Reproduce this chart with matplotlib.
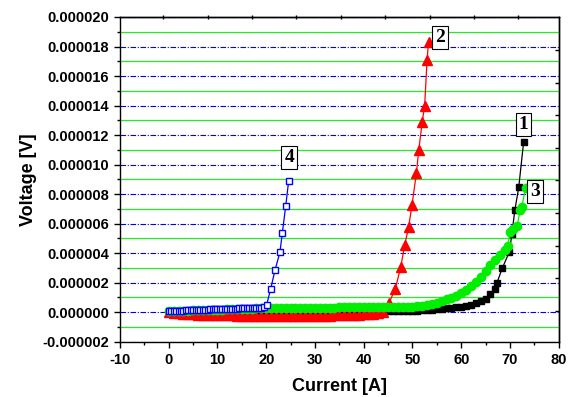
import matplotlib
matplotlib.use("Agg")
import matplotlib.pyplot as plt
from matplotlib.ticker import MultipleLocator, FormatStrFormatter

# ---- data (Voltage values in microvolts, scaled by 1e-6 when plotted) ----
x1 = [0, 1, 2, 3, 4, 5, 6, 7, 8, 9, 10, 11, 12, 13, 14, 15, 16, 17, 18, 19, 20, 21, 22, 23,
      24, 25, 26, 27, 28, 29, 30, 31, 32, 33, 34, 35, 36, 37, 38, 39, 40, 41, 42, 43, 44, 45,
      46, 47, 48, 49, 50, 51, 52, 53, 54, 55, 56, 57, 58, 59, 60, 61, 62, 63, 64, 65, 66, 67,
      67.3, 68.4, 69.9, 70.4, 71.0, 71.8, 72.8]
y1 = [0.0, 0.0, 0.0, 0.0, 0.0, 0.0, 0.0, 0.0, 0.0, 0.0, 0.0, 0.0, 0.0, 0.0, 0.0, 0.0, 0.0, 0.0,
      0.0, 0.0, 0.0, 0.0, 0.0, 0.0, 0.0, 0.0, 0.0, 0.0, 0.0, 0.0, 0.0, 0.0, 0.0, 0.0, 0.0, 0.0,
      0.0, 0.0, 0.01, 0.01, 0.02, 0.02, 0.03, 0.04, 0.05, 0.05, 0.06, 0.07, 0.08, 0.09, 0.10,
      0.11, 0.13, 0.15, 0.17, 0.20, 0.23, 0.26, 0.30, 0.33, 0.37, 0.43, 0.52, 0.62, 0.73, 0.92,
      1.2, 1.55,
      1.95, 2.96, 4.1, 5.3, 6.9, 8.45, 11.5]

x2 = [0, 1, 2, 3, 4, 5, 6, 7, 8, 9, 10, 11, 12, 13, 14, 15, 16, 17, 18, 19, 20, 21, 22,
      23, 24, 25, 26, 27, 28, 29, 30, 31, 32, 33, 34, 35, 36, 37, 38, 39, 40, 41, 42, 43, 44,
      45.2, 46.5, 47.6, 48.4, 49.2, 49.9, 50.8, 51.3, 52.0, 52.5, 53.0, 53.3]
y2 = [0.0, -0.04, -0.07, -0.10, -0.12, -0.14, -0.16, -0.17, -0.18, -0.19, -0.20, -0.21, -0.22,
      -0.22, -0.23, -0.23, -0.24, -0.24, -0.24, -0.25, -0.25, -0.25, -0.25, -0.25, -0.25, -0.25,
      -0.25, -0.25, -0.25, -0.24, -0.24, -0.24, -0.23, -0.23, -0.22, -0.21, -0.20, -0.19, -0.18,
      -0.16, -0.14, -0.12, -0.09, -0.06, -0.02,
      0.63, 1.6, 3.07, 4.54, 5.74, 7.25, 9.4, 11.0, 12.9, 14.0, 17.1, 18.3]

x3 = [0, 1, 2, 3, 4, 5, 6, 7, 8, 9, 10, 11, 12, 13, 14, 15, 16, 17, 18, 19, 20, 21, 22, 23,
      24, 25, 26, 27, 28, 29, 30, 31, 32, 33, 34, 35, 36, 37, 38, 39, 40, 41, 42, 43, 44, 45,
      46, 47, 48, 49, 50, 51, 52, 53, 54, 55, 56, 57, 58, 59, 60, 61, 62, 63, 64, 65, 66, 67,
      68, 69,
      69.5, 70.1, 70.6, 71.5, 72.1, 72.4, 73.2]
y3 = [0.05, 0.07, 0.08, 0.09, 0.10, 0.12, 0.13, 0.14, 0.15, 0.16, 0.17, 0.18, 0.19, 0.20,
      0.21, 0.22, 0.23, 0.24, 0.25, 0.25, 0.26, 0.26, 0.27, 0.27, 0.28, 0.28, 0.29, 0.29, 0.30,
      0.30, 0.30, 0.31, 0.31, 0.31, 0.31, 0.32, 0.32, 0.32, 0.32, 0.33, 0.33, 0.33, 0.33, 0.34,
      0.34, 0.35, 0.35, 0.36, 0.36, 0.37, 0.38, 0.39, 0.40, 0.47, 0.55, 0.65, 0.75, 0.86, 0.98,
      1.12, 1.3, 1.5, 1.75, 2.05, 2.4, 2.8, 3.2, 3.55, 3.9, 4.2,
      4.45, 5.45, 5.65, 5.85, 6.95, 7.1, 8.4]

x4 = [0, 0.5, 1, 1.5, 2, 2.5, 3, 3.5, 4, 4.5, 5, 5.5, 6, 6.5, 7, 7.5, 8, 8.5, 9, 9.5,
      10, 10.5, 11, 11.5, 12, 12.5, 13, 13.5, 14, 14.5, 15, 15.5, 16, 16.5, 17, 17.5, 18, 18.5,
      19, 19.5,
      20.1, 20.9, 21.8, 22.8, 23.3, 24.0, 24.6]
y4 = [0.05, 0.06, 0.07, 0.08, 0.09, 0.10, 0.11, 0.12, 0.12, 0.13, 0.14, 0.15, 0.15, 0.16, 0.17,
      0.17, 0.18, 0.19, 0.19, 0.20, 0.20, 0.21, 0.21, 0.22, 0.22, 0.23, 0.23, 0.24, 0.24, 0.25,
      0.25, 0.26, 0.26, 0.27, 0.27, 0.28, 0.28, 0.29, 0.30, 0.32,
      0.52, 1.56, 2.85, 4.05, 5.36, 7.2, 8.9]

labels = ["1", "2", "3", "4"]
label_x = [72.8, 55.7, 75.2, 24.7]
label_y = [12.7, 18.6, 8.15, 10.5]

plt.rcParams['font.family'] = ['Liberation Sans', 'DejaVu Sans']
plt.rcParams['axes.unicode_minus'] = False

fig = plt.figure(figsize=(5.68, 3.97), dpi=100)
ax = fig.add_axes([0.2113, 0.1393, 0.9836 - 0.2113, 0.9572 - 0.1393])

S = 1e-6
ax.plot(x1, [v * S for v in y1], color='black', lw=0.9, marker='s', ms=5,
        mfc='black', mec='black', zorder=3)
ax.plot(x2, [v * S for v in y2], color='red', lw=0.9, marker='^', ms=7,
        mfc='red', mec='red', zorder=4)
ax.plot(x3, [v * S for v in y3], color='#00ee00', lw=0.9, marker='o', ms=6,
        mfc='#00ee00', mec='#00ee00', zorder=5)
ax.plot(x4, [v * S for v in y4], color='#0000ff', lw=0.9, marker='s', ms=5,
        mfc='white', mec='#0000ff', mew=1.0, zorder=6)

for t, lx, ly in zip(labels, label_x, label_y):
    ax.text(lx, ly * S, t, family='Liberation Serif', fontweight='bold', fontsize=14,
            ha='center', va='center', zorder=7,
            bbox=dict(boxstyle='square,pad=0.15', fc='white', ec='black', lw=0.8))

ax.set_xlim(-10, 80)
ax.set_ylim(-2e-6, 20e-6)
ax.xaxis.set_major_locator(MultipleLocator(10))
ax.xaxis.set_minor_locator(MultipleLocator(5))
ax.yaxis.set_major_locator(MultipleLocator(2e-6))
ax.yaxis.set_minor_locator(MultipleLocator(1e-6))
ax.yaxis.set_major_formatter(FormatStrFormatter('%.6f'))

ax.grid(True, which='major', axis='y', color='#0000ee', lw=0.8,
        linestyle=(0, (5, 1.5, 1, 1.5)), zorder=1)
ax.grid(True, which='minor', axis='y', color='#22ee22', lw=0.9, linestyle='-', zorder=1)
ax.grid(False, axis='x')

for sp in ax.spines.values():
    sp.set_linewidth(1.0)

ax.tick_params(which='major', direction='out', length=4.5, width=1.0, labelsize=10.5,
               top=False, right=False)
ax.tick_params(which='minor', direction='out', length=2.5, width=1.0, top=False, right=False)
for lab in ax.get_xticklabels() + ax.get_yticklabels():
    lab.set_fontweight('bold')

ax.set_xlabel('Current [A]', fontsize=13, fontweight='bold', labelpad=8)
ax.set_ylabel('Voltage [V]', fontsize=13, fontweight='bold', labelpad=4)

# extra ticks on top and right spines
top_ticks = [-1.1 + 9.1 * k for k in range(9)]
secx = ax.secondary_xaxis('top')
secx.set_xticks(top_ticks)
secx.set_xticklabels([])
secx.tick_params(direction='inout', length=3, width=1.0)
secx.spines['top'].set_linewidth(1.0)

right_ticks = [(0.09 + 2.21 * k) * S for k in range(9)]
secy = ax.secondary_yaxis('right')
secy.set_yticks(right_ticks)
secy.set_yticklabels([])
secy.tick_params(direction='in', length=3, width=1.0)
secy.spines['right'].set_linewidth(1.0)

fig.savefig('out.png', dpi=100)
